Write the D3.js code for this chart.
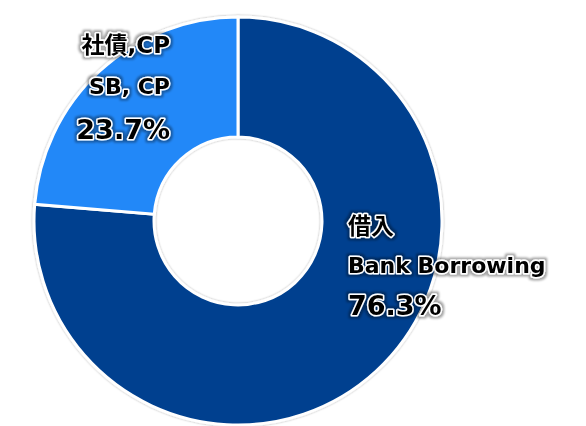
<!DOCTYPE html>
<html>
<head>
<meta charset="utf-8">
<script src="https://cdn.jsdelivr.net/npm/d3@7"></script>
<style>
  body { margin: 0; background: #fff; }
  text { font-family: "DejaVu Sans", "Noto Sans CJK JP", sans-serif; font-weight: bold; fill: #000;
         stroke: #fff; stroke-width: 3px; paint-order: stroke; stroke-linejoin: round; }
</style>
</head>
<body>
<div id="chart"></div>
<script>
// Funding breakdown
const labelsJa = ["借入", "社債,CP"];
const labelsEn = ["Bank Borrowing", "SB, CP"];
const shares = [76.3, 23.7];
const colors = ["#02418F", "#2388F8"];

const width = 586;
const height = 426;
const cx = 238, cy = 221;
const outerR = 204, innerR = 84;

const svg = d3.select("#chart")
  .append("svg")
  .attr("width", width)
  .attr("height", height);

const defs = svg.append("defs");
const sh = defs.append("filter").attr("id", "pieShadow")
  .attr("x", "-10%").attr("y", "-10%").attr("width", "120%").attr("height", "120%");
sh.append("feDropShadow").attr("dx", 0).attr("dy", 0).attr("stdDeviation", 1.2)
  .attr("flood-color", "#000").attr("flood-opacity", 0.35);

const glow = defs.append("filter").attr("id", "textGlow")
  .attr("x", "-10%").attr("y", "-30%").attr("width", "120%").attr("height", "160%");
glow.append("feMorphology").attr("in", "SourceAlpha").attr("operator", "dilate").attr("radius", 2).attr("result", "d");
glow.append("feGaussianBlur").attr("in", "d").attr("stdDeviation", 1.2).attr("result", "b");
glow.append("feFlood").attr("flood-color", "#000").attr("flood-opacity", 0.35);
glow.append("feComposite").attr("in2", "b").attr("operator", "in").attr("result", "s");
const m = glow.append("feMerge");
m.append("feMergeNode").attr("in", "s");
m.append("feMergeNode").attr("in", "SourceGraphic");

const pie = d3.pie().sort(null).value(d => d);
const arc = d3.arc().innerRadius(innerR).outerRadius(outerR);

const g = svg.append("g")
  .attr("transform", `translate(${cx},${cy})`)
  .attr("filter", "url(#pieShadow)");

g.selectAll("path")
  .data(pie(shares))
  .enter()
  .append("path")
  .attr("d", arc)
  .attr("fill", (d, i) => colors[i])
  .attr("stroke", "#fff")
  .attr("stroke-width", 3);

// Labels
const labelPos = [
  {x: 348, y: 234, anchor: "start", gap: [39, 42]},
  {x: 170, y: 53, anchor: "end", gap: [41, 45]}
];

const labels = svg.append("g").attr("filter", "url(#textGlow)");
shares.forEach((v, i) => {
  const p = labelPos[i];
  labels.append("text").attr("x", p.x).attr("y", p.y)
    .attr("text-anchor", p.anchor).style("font-size", "23px").text(labelsJa[i]);
  labels.append("text").attr("x", p.x).attr("y", p.y + p.gap[0])
    .attr("text-anchor", p.anchor).style("font-size", "22px").text(labelsEn[i]);
  labels.append("text").attr("x", p.x).attr("y", p.y + p.gap[0] + p.gap[1])
    .attr("text-anchor", p.anchor).style("font-size", "27px").text(v.toFixed(1) + "%");
});
</script>
</body>
</html>
